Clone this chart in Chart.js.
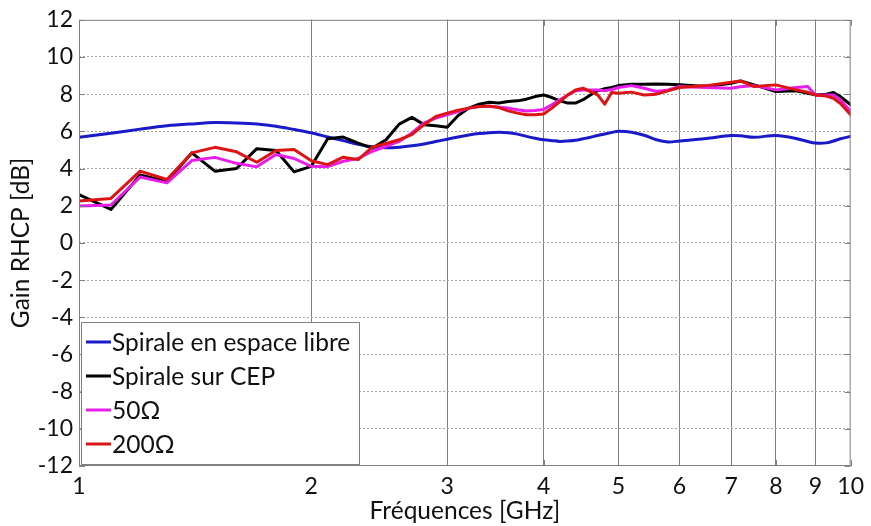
<!DOCTYPE html>
<html>
<head>
<meta charset="utf-8">
<script src="https://cdn.jsdelivr.net/npm/chart.js@4.4.1/dist/chart.umd.min.js"></script>
<style>
  html, body { margin: 0; padding: 0; background: #fff; }
  #wrap { width: 871px; height: 526px; position: relative; }
</style>
</head>
<body>
<div id="wrap"><canvas id="c" width="871" height="526"></canvas></div>
<script>
// Frequencies (GHz) at which gains are given
const freqs = [1.0,1.1,1.2,1.3,1.4,1.5,1.6,1.7,1.8,1.9,
               2.0,2.1,2.2,2.3,2.4,2.5,2.6,2.7,2.8,2.9,
               3.0,3.1,3.2,3.3,3.4,3.5,3.6,3.7,3.8,3.9,
               4.0,4.1,4.2,4.3,4.4,4.5,4.6,4.7,4.8,4.9,
               5.0,5.2,5.4,5.6,5.8,6.0,6.5,7.0,7.2,7.5,
               8.0,8.5,8.8,9.0,9.3,9.5,9.7,10.0];

// Gain RHCP (dB)
const gainLibre = [5.68,5.9,6.12,6.3,6.4,6.47,6.45,6.4,6.28,6.1,
                   5.92,5.7,5.5,5.3,5.17,5.12,5.15,5.22,5.32,5.45,
                   5.58,5.7,5.8,5.88,5.93,5.95,5.93,5.85,5.73,5.63,
                   5.55,5.5,5.46,5.48,5.52,5.6,5.68,5.78,5.86,5.94,
                   6.0,5.95,5.79,5.55,5.43,5.48,5.62,5.78,5.76,5.68,
                   5.78,5.62,5.45,5.37,5.38,5.48,5.6,5.73];
const gainCEP = [2.6,1.8,3.65,3.3,4.84,3.86,4.0,5.07,4.97,3.82,
                 4.12,5.6,5.69,5.37,5.1,5.55,6.39,6.75,6.36,6.3,
                 6.22,6.85,7.25,7.46,7.57,7.52,7.6,7.64,7.73,7.87,
                 7.96,7.82,7.64,7.52,7.52,7.7,7.96,8.18,8.29,8.36,
                 8.46,8.53,8.53,8.55,8.53,8.5,8.41,8.59,8.71,8.5,
                 8.14,8.18,8.05,7.96,8.0,8.09,7.87,7.43];
const gain50 = [1.98,2.04,3.54,3.23,4.43,4.6,4.28,4.09,4.75,4.54,
                4.12,4.1,4.39,4.54,4.93,5.2,5.46,5.91,6.45,6.71,
                6.89,7.07,7.25,7.34,7.34,7.3,7.25,7.16,7.1,7.12,
                7.18,7.43,7.7,7.96,8.18,8.23,8.23,8.23,8.18,8.25,
                8.36,8.46,8.32,8.14,8.23,8.41,8.36,8.32,8.4,8.46,
                8.23,8.36,8.41,7.96,7.95,7.96,7.7,7.07];
const gain200 = [2.25,2.39,3.86,3.41,4.84,5.14,4.9,4.34,4.97,5.02,
                 4.42,4.21,4.61,4.48,5.15,5.35,5.55,5.82,6.36,6.8,
                 6.98,7.14,7.25,7.34,7.37,7.28,7.1,6.98,6.89,6.89,
                 6.93,7.25,7.6,7.96,8.23,8.32,8.14,7.96,7.46,8.09,
                 8.05,8.11,7.96,8.0,8.18,8.36,8.46,8.64,8.71,8.41,
                 8.5,8.23,8.1,7.96,7.9,7.78,7.5,6.89];

const seriesNames = ['Spirale en espace libre', 'Spirale sur CEP', '50\u03A9', '200\u03A9'];
const xTicks = [1,2,3,4,5,6,7,8,9,10];
const yTicks = [-12,-10,-8,-6,-4,-2,0,2,4,6,8,10,12];

const FONT = 'Lato, "Open Sans", sans-serif';

const toPoints = vals => vals.map((v, i) => ({ x: freqs[i], y: v }));

// Frame with inward tick marks, plus a boxed legend in the lower-left corner
const framePlugin = {
  id: 'frame',
  afterDatasetsDraw(chart) {
    const { ctx, chartArea: a, scales } = chart;
    ctx.save();
    ctx.strokeStyle = '#808080';
    ctx.lineWidth = 1;
    ctx.strokeRect(a.left + 0.5, a.top + 0.5, a.right - a.left - 1, a.bottom - a.top - 1);
    ctx.beginPath();
    yTicks.forEach(v => {
      const y = Math.round(scales.y.getPixelForValue(v)) + 0.5;
      ctx.moveTo(a.left, y); ctx.lineTo(a.left + 6, y);
      ctx.moveTo(a.right, y); ctx.lineTo(a.right - 6, y);
    });
    xTicks.forEach(v => {
      const x = Math.round(scales.x.getPixelForValue(v)) + 0.5;
      ctx.moveTo(x, a.bottom); ctx.lineTo(x, a.bottom - 6);
      ctx.moveTo(x, a.top); ctx.lineTo(x, a.top + 6);
    });
    ctx.stroke();
    ctx.restore();
  },
  afterDraw(chart) {
    const { ctx, chartArea: a } = chart;
    const bx = a.left + 2, by = a.bottom - 144, bw = 278, bh = 142;
    ctx.save();
    ctx.fillStyle = '#fff';
    ctx.fillRect(bx, by, bw, bh);
    ctx.strokeStyle = '#808080';
    ctx.lineWidth = 1;
    ctx.strokeRect(bx + 0.5, by + 0.5, bw, bh);
    ctx.font = '24.5px ' + FONT;
    ctx.textBaseline = 'middle';
    chart.data.datasets.forEach((ds, i) => {
      const yy = by + 20 + i * 34;
      ctx.strokeStyle = ds.borderColor;
      ctx.lineWidth = 3;
      ctx.beginPath();
      ctx.moveTo(bx + 5, yy); ctx.lineTo(bx + 30, yy);
      ctx.stroke();
      ctx.fillStyle = '#111';
      ctx.fillText(ds.label, bx + 31, yy + 1);
    });
    ctx.restore();
  }
};

new Chart(document.getElementById('c'), {
  type: 'line',
  data: {
    datasets: [
      { label: seriesNames[0], data: toPoints(gainLibre), borderColor: '#1a1ac8', borderWidth: 3, tension: 0.3, order: 4 },
      { label: seriesNames[1], data: toPoints(gainCEP), borderColor: '#000000', borderWidth: 3, tension: 0, order: 3 },
      { label: seriesNames[2], data: toPoints(gain50), borderColor: '#e81ee8', borderWidth: 3, tension: 0, order: 2 },
      { label: seriesNames[3], data: toPoints(gain200), borderColor: '#dc1414', borderWidth: 3, tension: 0, order: 1 }
    ]
  },
  options: {
    responsive: false,
    animation: false,
    devicePixelRatio: 1,
    layout: { padding: { left: 0, right: 19, top: 18, bottom: 0 } },
    elements: { point: { radius: 0 }, line: { borderJoinStyle: 'round', borderCapStyle: 'round' } },
    plugins: { legend: { display: false }, tooltip: { enabled: false } },
    scales: {
      x: {
        type: 'logarithmic',
        min: 1, max: 10,
        afterBuildTicks: s => { s.ticks = xTicks.map(v => ({ value: v })); },
        afterFit: s => { s.height = 60; },
        ticks: {
          autoSkip: false, maxRotation: 0, padding: 7,
          color: '#111', font: { family: FONT, size: 23 },
          callback: v => String(v)
        },
        grid: {
          drawTicks: false,
          color: ctx => (ctx.tick && (ctx.tick.value === 1 || ctx.tick.value === 10)) ? 'rgba(0,0,0,0)' : '#808080',
          lineWidth: 1
        },
        border: { display: false },
        title: { display: true, text: 'Fréquences [GHz]', color: '#111', font: { family: FONT, size: 24.5 }, padding: { top: -4, bottom: 0 } }
      },
      y: {
        min: -12, max: 12,
        afterBuildTicks: s => { s.ticks = yTicks.map(v => ({ value: v })); },
        afterFit: s => { s.width = 79; },
        ticks: {
          padding: 6,
          color: '#111', font: { family: FONT, size: 23 }
        },
        grid: {
          drawTicks: false,
          color: ctx => (ctx.tick && Math.abs(ctx.tick.value) === 12) ? 'rgba(0,0,0,0)' : '#a8a8a8',
          lineWidth: 1
        },
        border: { display: false, dash: [2, 2] },
        title: { display: true, text: 'Gain RHCP [dB]', color: '#111', font: { family: FONT, size: 24.5 }, padding: { top: 6, bottom: 4 } }
      }
    }
  },
  plugins: [framePlugin]
});
</script>
</body>
</html>
